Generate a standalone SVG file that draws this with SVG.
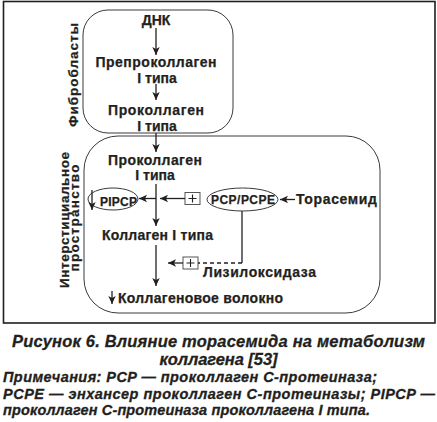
<svg xmlns="http://www.w3.org/2000/svg" width="437" height="422" viewBox="0 0 437 422">
<style>
.t{font-family:"Liberation Sans",Arial,sans-serif;font-weight:bold;fill:#231f20;stroke:#231f20;stroke-width:0.25}
.d{font-size:14px;text-anchor:middle}
.s{font-size:12px}
.cap{font-family:"Liberation Sans",Arial,sans-serif;font-weight:bold;font-style:italic;fill:#231f20;stroke:#231f20;stroke-width:0.3}
.ln{stroke:#231f20;stroke-width:1.3;fill:none}
.box{stroke:#3a3a3a;stroke-width:1;fill:none}
.pb{stroke:#555;stroke-width:1;fill:#fff}
.pl{stroke:#231f20;stroke-width:1.1}
</style>
<defs>
<marker id="ah" markerWidth="9" markerHeight="9" refX="8" refY="4.5" orient="auto" markerUnits="userSpaceOnUse">
<path d="M0,0.8 L8,4.5 L0,8.2 L2,4.5 Z" fill="#231f20"/>
</marker>
</defs>
<rect x="3.5" y="1.5" width="431.5" height="321.5" fill="none" stroke="#231f20" stroke-width="1.6"/>

<g id="fibroblasts">
<rect class="box" x="83" y="10" width="150" height="123" rx="25" ry="25"/>
<text class="t" font-size="13.5" text-anchor="middle" transform="translate(77.5,75) rotate(-90)" textLength="104">Фибробласты</text>
</g>
<g id="interstitial">
<rect class="box" x="84" y="136" width="296" height="177" rx="34" ry="34"/>
<text class="t" font-size="13.5" text-anchor="middle" transform="translate(68.5,220) rotate(-90)" textLength="136">Интерстициальное</text>
<text class="t" font-size="13.5" text-anchor="middle" transform="translate(78.5,218) rotate(-90)" textLength="107">пространство</text>
</g>

<g id="dna"><text class="t d" x="156" y="24.5">ДНК</text></g>
<g id="preprocollagen">
<text class="t d" x="156" y="67" textLength="121">Препроколлаген</text>
<text class="t d" x="157" y="82.5">I типа</text>
</g>
<g id="procollagen1">
<text class="t d" x="156" y="115" textLength="96">Проколлаген</text>
<text class="t d" x="157" y="131">I типа</text>
</g>
<g id="procollagen2">
<text class="t d" x="155" y="165" textLength="94">Проколлаген</text>
<text class="t d" x="155" y="180">I типа</text>
</g>
<g id="pipcp">
<ellipse class="box" cx="113" cy="199" rx="25" ry="11"/>
<text class="t s" x="100" y="206" textLength="37">PIPCP</text>
</g>
<g id="pcp">
<ellipse class="box" cx="242.5" cy="199.5" rx="35.5" ry="11.5"/>
<text class="t s" x="211" y="204" textLength="64">PCP/PCPE</text>
</g>
<g id="torasemide"><text class="t" font-size="14" x="296" y="204" textLength="81">Торасемид</text></g>
<g id="collagen1"><text class="t d" x="157.5" y="240" textLength="111">Коллаген I типа</text></g>
<g id="lysyl"><text class="t" font-size="14" x="203" y="277" textLength="113">Лизилоксидаза</text></g>
<g id="fiber"><text class="t" font-size="14" x="118" y="303" textLength="165">Коллагеновое волокно</text></g>
<g id="plus1">
<rect class="pb" x="185" y="192.5" width="15" height="12"/>
<path class="pl" d="M188.5,198.5 H196.5 M192.5,194.5 V202.5"/>
</g>
<g id="plus2">
<rect class="pb" x="183" y="257" width="15" height="12"/>
<path class="pl" d="M186.5,263 H194.5 M190.5,259 V267" stroke="#2e1f5e"/>
</g>

<g id="connectors">
<line class="ln" x1="156" y1="28" x2="156" y2="55" marker-end="url(#ah)"/>
<line class="ln" x1="156" y1="84" x2="156" y2="100" marker-end="url(#ah)"/>
<line class="ln" x1="156" y1="133" x2="156" y2="152" marker-end="url(#ah)"/>
<line class="ln" x1="156" y1="184" x2="156" y2="226" marker-end="url(#ah)"/>
<line class="ln" x1="156" y1="198.5" x2="139" y2="198.5" marker-end="url(#ah)"/>
<line class="ln" x1="185" y1="198.5" x2="160" y2="198.5" marker-end="url(#ah)"/>
<line class="ln" x1="295" y1="199.5" x2="280" y2="199.5" marker-end="url(#ah)"/>
<path class="ln" d="M242,211 V263"/>
<path class="ln" d="M242,263 H198" stroke-dasharray="4,3"/>
<line class="ln" x1="183" y1="263" x2="168" y2="263" marker-end="url(#ah)"/>
<line class="ln" x1="156" y1="245" x2="156" y2="286" marker-end="url(#ah)"/>
<line class="ln" x1="92" y1="190" x2="92" y2="210" marker-end="url(#ah)"/>
<line class="ln" x1="112" y1="291" x2="112" y2="304" marker-end="url(#ah)"/>
</g>

<g id="caption">
<text class="cap" font-size="16.5" x="218.5" y="347" text-anchor="middle" textLength="413">Рисунок 6. Влияние торасемида на метаболизм</text>
<text class="cap" font-size="16.5" x="218.5" y="365" text-anchor="middle" textLength="118">коллагена [53]</text>
<text class="cap" font-size="14.5" x="3" y="382" textLength="374">Примечания: PCP — проколлаген С-протеиназа;</text>
<text class="cap" font-size="14.5" x="3" y="399" textLength="432">PCPE — энхансер проколлаген С-протеиназы; PIPCP —</text>
<text class="cap" font-size="14.5" x="3" y="415" textLength="367">проколлаген С-протеиназа проколлагена I типа.</text>
</g>
</svg>
